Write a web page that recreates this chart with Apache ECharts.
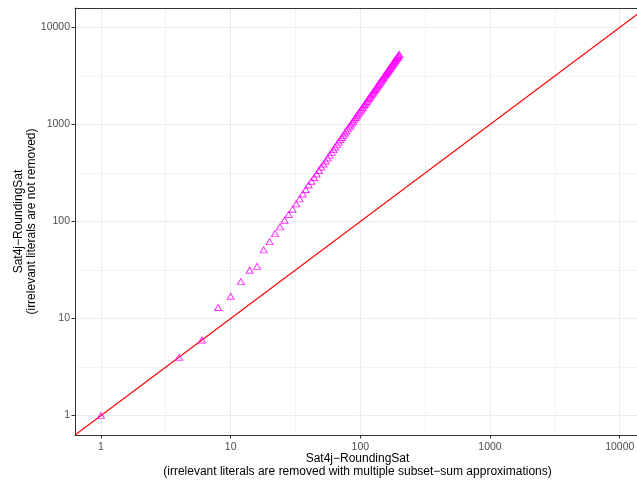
<!DOCTYPE html>
<html>
<head>
<meta charset="utf-8">
<script src="https://cdn.jsdelivr.net/npm/echarts@6/dist/echarts.min.js"></script>
<style>
html,body{margin:0;padding:0;background:#fff;overflow:hidden;width:637px;height:481px;}
#chart{width:645px;height:481px;}
</style>
</head>
<body>
<div id="chart"></div>
<script>
// Data (x: with multiple subset-sum approximations, y: not removed)
var xValues = [1, 4, 6, 8, 10, 12, 14, 16, 18, 20, 22, 24, 26, 28, 30, 32, 34, 36, 38, 40,
  42, 44, 46, 48, 50, 52, 54, 56, 58, 60, 62, 64, 66, 68, 70, 72, 74, 76, 78, 80,
  82, 84, 86, 88, 90, 92, 94, 96, 98, 100, 102, 104, 106, 108, 110, 112, 114, 116, 118, 120,
  122, 124, 126, 128, 130, 132, 134, 136, 138, 140, 142, 144, 146, 148, 150, 152, 154, 156, 158, 160,
  162, 164, 166, 168, 170, 172, 174, 176, 178, 180, 182, 184, 186, 188, 190, 192, 194, 196, 198, 200];
var yValues = [1, 4, 6, 13, 17, 24, 31.5, 34.5, 51, 62, 75, 88, 103, 118, 134, 152, 171, 192, 214, 238,
  260, 284, 309, 336, 365, 392, 421, 452, 483, 516, 550, 585, 620, 657, 695, 734, 774, 815, 857, 900,
  944, 988, 1035, 1081, 1130, 1178, 1228, 1279, 1331, 1384, 1438, 1493, 1549, 1606, 1663, 1722, 1782, 1842, 1905, 1968,
  2032, 2096, 2162, 2228, 2296, 2364, 2433, 2504, 2576, 2649, 2723, 2797, 2873, 2949, 3027, 3105, 3185, 3265, 3345, 3428,
  3511, 3594, 3680, 3766, 3853, 3941, 4030, 4121, 4212, 4304, 4398, 4492, 4587, 4683, 4778, 4876, 4975, 5074, 5175, 5272];
var majorBreaks = [1, 10, 100, 1000, 10000];
var minorBreaks = [3.162, 31.62, 316.2, 3162];
var xLimits = [0.631, 14330];
var yLimits = [0.631, 15849];

var xTitle = 'Sat4j\u2212RoundingSat\n(irrelevant literals are removed with multiple subset\u2212sum approximations)';
var yTitle = 'Sat4j\u2212RoundingSat\n(irrelevant literals are not removed)';

var points = xValues.map(function (x, i) { return [x, yValues[i]]; });
var diagonal = [[xLimits[0], xLimits[0]], [xLimits[1], xLimits[1]]];

var FONT = 'Liberation Sans, Arial, Helvetica, sans-serif';
var gridColor = '#ebebeb';
var borderColor = '#333333';

function axisBase(limits, name) {
  return {
    type: 'log',
    logBase: 10,
    min: limits[0],
    max: limits[1],
    name: name,
    nameLocation: 'middle',
    nameMoveOverlap: false,
    nameTextStyle: { color: '#000', fontFamily: FONT, fontSize: 12, lineHeight: 13 },
    axisLine: { show: true, onZero: false, lineStyle: { color: borderColor, width: 1 } },
    axisTick: { show: true, customValues: majorBreaks, length: 3.5, lineStyle: { color: borderColor, width: 1 } },
    axisLabel: {
      customValues: majorBreaks, color: '#4d4d4d', fontFamily: FONT, fontSize: 10.5,
      formatter: function (v) { return String(Math.round(v)); }
    },
    splitLine: { show: false },
    minorSplitLine: { show: false }
  };
}

var xAxis = axisBase(xLimits, xTitle);
xAxis.position = 'bottom';
xAxis.nameGap = 17.5;
xAxis.axisLabel.margin = 7;
var yAxis = axisBase(yLimits, yTitle);
yAxis.nameGap = 36.5;
yAxis.nameRotate = 90;
yAxis.axisLabel.margin = 5;

var xTop = {
  type: 'log', logBase: 10, min: xLimits[0], max: xLimits[1], position: 'top',
  axisLine: { show: true, onZero: false, lineStyle: { color: borderColor, width: 1 } },
  axisTick: { show: false }, axisLabel: { show: false }, splitLine: { show: false }
};

function gridLines(values) {
  var out = [];
  values.forEach(function (v) {
    out.push({ xAxis: v });
    out.push({ yAxis: v });
  });
  return out;
}

var chart = echarts.init(document.getElementById('chart'), null, { renderer: 'canvas' });
chart.setOption({
  animation: false,
  backgroundColor: '#ffffff',
  grid: {
    left: 75, right: 5, top: 8, bottom: 46, containLabel: false, outerBoundsMode: 'none',
    show: false
  },
  xAxis: [xAxis, xTop],
  yAxis: yAxis,
  series: [
    {
      type: 'line', data: [], z: 0, silent: true,
      markLine: {
        silent: true, z: 0, symbol: ['none', 'none'], label: { show: false },
        lineStyle: { color: gridColor, width: 0.6, type: 'solid' },
        animation: false,
        data: gridLines(minorBreaks)
      }
    },
    {
      type: 'line', data: [], z: 0, silent: true,
      markLine: {
        silent: true, z: 0, symbol: ['none', 'none'], label: { show: false },
        lineStyle: { color: gridColor, width: 1, type: 'solid' },
        animation: false,
        data: gridLines(majorBreaks)
      }
    },
    {
      type: 'line', data: diagonal, z: 2, silent: true, showSymbol: false, symbol: 'none',
      lineStyle: { color: '#ff0000', width: 1.1 }
    },
    {
      type: 'scatter', data: points, z: 3, symbol: 'triangle', symbolSize: [7, 6],
      itemStyle: { color: 'rgba(0,0,0,0)', borderColor: '#ff00ff', borderWidth: 1 }
    }
  ]
});
</script>
</body>
</html>
